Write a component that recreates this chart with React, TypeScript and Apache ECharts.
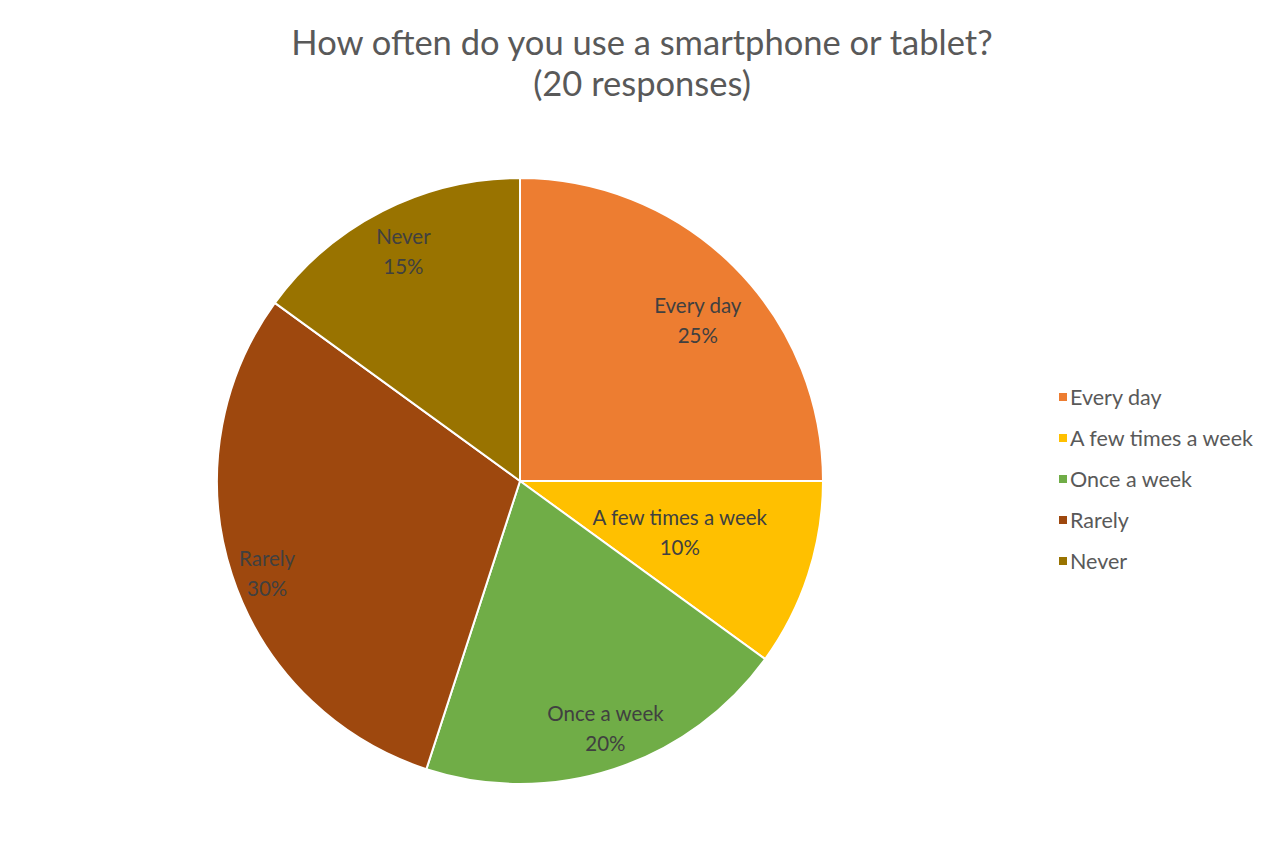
import React, { useEffect, useRef } from "react";
import * as echarts from "echarts";

const TITLE = "How often do you use a smartphone or tablet?\n(20 responses)";
const categories = ["Every day", "A few times a week", "Once a week", "Rarely", "Never"];
const counts = [5, 2, 4, 6, 3];
const colors = ["#ED7D31", "#FFC000", "#70AD47", "#9E480E", "#997300"];
// label distance from centre, as a fraction of the pie radius (Excel "best fit")
const labelRadiusFrac = [0.82, 0.555, 0.86, 0.885, 0.845];
// small nudges of the labels, in px
const labelNudge = [[0, 17], [-3, -2], [4, -4], [5, 8], [1, 1]];

const FONT = "Lato";
const CX = 520;
const CY = 481;
const R = 303;

export default function App() {
  const ref = useRef<HTMLDivElement>(null);
  useEffect(() => {
    const chart = echarts.init(ref.current!, null, { renderer: "svg" });
    const data = categories.map((name, i) => ({ name, value: counts[i], itemStyle: { color: colors[i] } }));

    const labelSeries = categories.map((_, k) => {
      const lr = labelRadiusFrac[k] * R;
      const r0 = 2 * lr - R;
      return {
        type: "pie",
        center: [CX, CY],
        radius: [r0, R],
        startAngle: 90,
        clockwise: true,
        silent: true,
        z: 5,
        legendHoverLink: false,
        avoidLabelOverlap: false,
        labelLayout: { dx: labelNudge[k][0], dy: labelNudge[k][1] },
        itemStyle: { color: "transparent", borderWidth: 0 },
        labelLine: { show: false },
        data: categories.map((name, i) => ({
          name,
          value: counts[i],
          itemStyle: { color: "transparent" },
          label: {
            show: i === k,
            position: "inside",
            formatter: "{b}\n{d}%",
            color: "#404040",
            fontFamily: FONT,
            fontSize: 20.5,
            lineHeight: 30,
          },
        })),
      };
    });

    chart.setOption({
      animation: false,
      backgroundColor: "#ffffff",
      title: {
        text: TITLE,
        left: 637,
        textAlign: "center",
        top: 16,
        textStyle: {
          color: "#595959",
          fontFamily: FONT,
          fontWeight: "normal",
          fontSize: 34.5,
          lineHeight: 41,
        },
      },
      legend: {
        orient: "vertical",
        left: 1052,
        top: 381,
        itemWidth: 10,
        itemHeight: 10,
        itemGap: 19,
        icon: "rect",
        data: categories,
        textStyle: { color: "#595959", fontFamily: FONT, fontSize: 21.5, padding: [0, 0, 0, -3] },
      },
      series: [
        {
          type: "pie",
          center: [CX, CY],
          radius: [0, R],
          startAngle: 90,
          clockwise: true,
          label: { show: false },
          labelLine: { show: false },
          itemStyle: { borderColor: "#ffffff", borderWidth: 2 },
          data,
        },
        ...labelSeries,
      ],
    });
    return () => chart.dispose();
  }, []);
  return <div ref={ref} style={{ width: 1280, height: 854, margin: -8 }} />;
}
